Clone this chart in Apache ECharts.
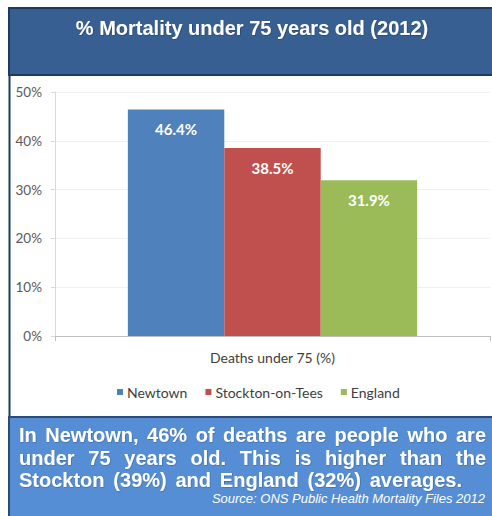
<!DOCTYPE html>
<html><head><meta charset="utf-8">
<script src="https://cdn.jsdelivr.net/npm/echarts@6/dist/echarts.min.js"></script>
<style>html,body{margin:0;padding:0;background:#fff}#c{width:492px;height:516px}</style>
</head><body><div id="c"></div>
<script>
const categories = ['Deaths under 75 (%)'];
const seriesNames = ['Newtown', 'Stockton-on-Tees', 'England'];
const newtown = [46.4];
const stockton = [38.5];
const england = [31.9];
const colors = ['#4f81bd', '#c0504d', '#9bbb59'];
const titleText = '% Mortality under 75 years old (2012)';
const summaryLines = [
  'In Newtown, 46% of deaths are people who are',
  'under 75 years old. This is higher than the',
  'Stockton (39%) and England (32%) averages.'
];
const sourceText = 'Source: ONS Public Health Mortality Files 2012';

const chart = echarts.init(document.getElementById('c'), null, {renderer: 'svg'});

// justified text layout for the summary box
const cv = document.createElement('canvas').getContext('2d');
const sumFont = 'bold 20px "Liberation Sans", Arial, sans-serif';
cv.font = sumFont;
const textEls = [];
const left = 19;
const lineRight = [486, 486, 462];
const lineY = [435, 457.5, 480];
summaryLines.forEach((line, i) => {
  const words = line.split(' ');
  const wsum = words.reduce((s, w) => s + cv.measureText(w).width, 0);
  const gap = (lineRight[i] - left - wsum) / (words.length - 1);
  let x = left;
  words.forEach(w => {
    textEls.push({type: 'text', z: 10, style: {text: w, x: x, y: lineY[i], font: sumFont, fill: '#ffffff', verticalAlign: 'middle', textShadowColor: 'rgba(0,0,0,0.35)', textShadowBlur: 1, textShadowOffsetX: 0.5, textShadowOffsetY: 0.5}});
    x += cv.measureText(w).width + gap;
  });
});

const mk = (name, data, idx) => ({
  name: name, type: 'bar', data: data, barGap: '0%', barCategoryGap: '33.5%',
  itemStyle: {color: colors[idx]},
  label: {show: true, position: 'insideTop', distance: 12, formatter: p => p.value.toFixed(1) + '%',
    color: '#ffffff', fontFamily: 'Lato', fontWeight: 'bold', fontSize: 15}
});

chart.setOption({
  animation: false,
  grid: {left: 55, right: 2, top: 92, bottom: 180},
  legend: {
    data: seriesNames, left: 112, top: 380, itemWidth: 6, itemHeight: 6, itemGap: 18,
    icon: 'rect', textStyle: {color: '#404040', fontFamily: 'Lato', fontSize: 14, padding: [0, 0, 0, -1]}
  },
  xAxis: {
    type: 'category', data: categories,
    axisLine: {lineStyle: {color: '#bfbfbf'}},
    axisTick: {show: true, length: 5, lineStyle: {color: '#bfbfbf'}},
    axisLabel: {color: '#404040', fontFamily: 'Lato', fontSize: 14, margin: 14}
  },
  yAxis: {
    type: 'value', min: 0, max: 50, interval: 10,
    axisLine: {show: true, lineStyle: {color: '#d9d9d9'}},
    axisTick: {show: true, length: 4, lineStyle: {color: '#d9d9d9'}},
    axisLabel: {formatter: '{value}%', color: '#595959', fontFamily: 'Lato', fontSize: 13.5, margin: 13},
    splitLine: {lineStyle: {color: '#efefef'}}
  },
  graphic: [
    {type: 'rect', z: 0, shape: {x: 9, y: 8, width: 500, height: 67}, style: {fill: '#385f92', stroke: '#1f3a62', lineWidth: 2}},
    {type: 'line', z: 0, shape: {x1: 9.5, y1: 75, x2: 9.5, y2: 418}, style: {stroke: '#1f3a62', lineWidth: 2}},
    {type: 'rect', z: 0, shape: {x: 9, y: 417, width: 500, height: 120}, style: {fill: '#568ed5', stroke: '#2b4a78', lineWidth: 2}},
    {type: 'text', z: 10, style: {text: titleText, x: 252, y: 28, align: 'center', verticalAlign: 'middle',
      font: 'bold 20px "Liberation Sans", Arial, sans-serif', fill: '#ffffff',
      textShadowColor: 'rgba(0,0,0,0.4)', textShadowBlur: 1, textShadowOffsetX: 0.5, textShadowOffsetY: 0.5}},
    ...textEls,
    {type: 'text', z: 10, style: {text: sourceText, x: 485, y: 498, align: 'right', verticalAlign: 'middle',
      font: 'italic 13px "Liberation Sans", Arial, sans-serif', fill: '#ffffff'}}
  ],
  series: [mk(seriesNames[0], newtown, 0), mk(seriesNames[1], stockton, 1), mk(seriesNames[2], england, 2)]
});
</script></body></html>
